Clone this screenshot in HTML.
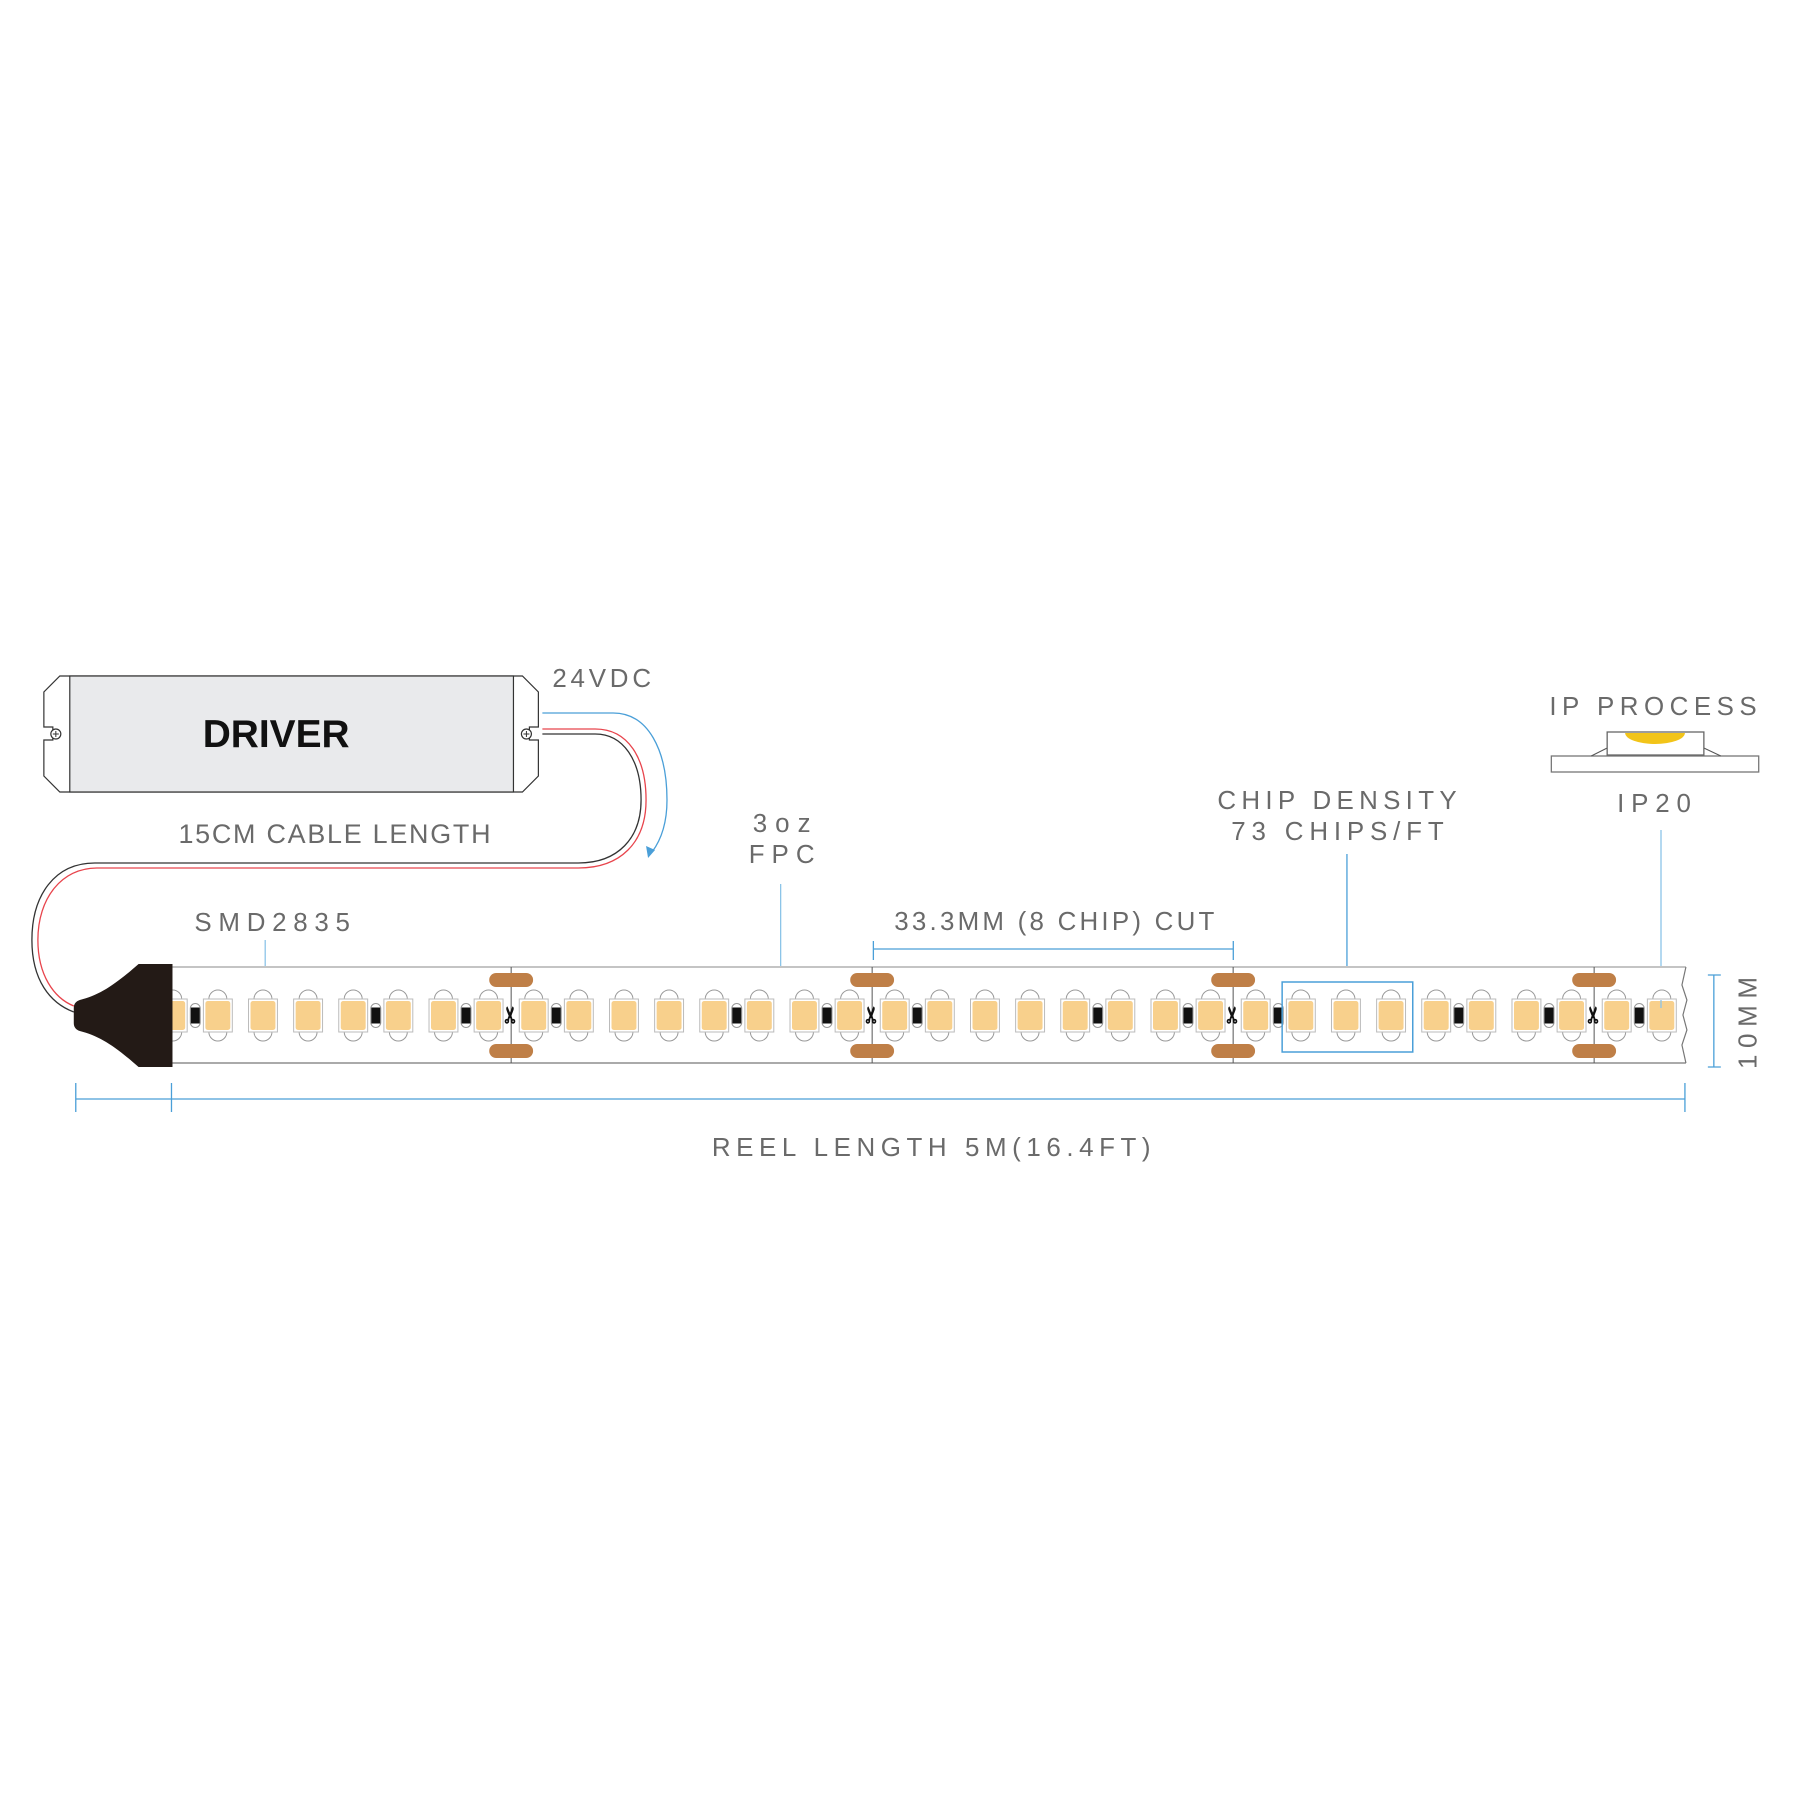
<!DOCTYPE html>
<html><head><meta charset="utf-8"><style>
html,body{margin:0;padding:0;background:#fff;}
svg{display:block;}
text{font-family:"Liberation Sans",sans-serif;fill:#6a6a6a;}
</style></head><body>
<svg width="1800" height="1800" viewBox="0 0 1800 1800" xmlns="http://www.w3.org/2000/svg">
<defs>
<g id="chip">
<path d="M-9 -16.5 A9 9 0 0 1 9 -16.5" fill="#fff" stroke="#999" stroke-width="1"/>
<path d="M-9 16.5 A9 9 0 0 0 9 16.5" fill="#fff" stroke="#999" stroke-width="1"/>
<rect x="-14.5" y="-16.5" width="29" height="33" fill="#fff" stroke="#bbb" stroke-width="1"/>
<rect x="-12.5" y="-14.5" width="25" height="29" rx="2.5" fill="#f8d08c"/>
</g>
<g id="res">
<rect x="-5" y="-12" width="10" height="24" rx="5" fill="#fff" stroke="#999" stroke-width="1"/>
<rect x="-4.5" y="-8" width="9" height="16" fill="#111"/>
</g>
<g id="cut">
<line x1="0" y1="967" x2="0" y2="1063" stroke="#555" stroke-width="1"/>
<rect x="-22" y="973" width="44" height="14" rx="7" fill="#bf7f47"/>
<rect x="-22" y="1044" width="44" height="14" rx="7" fill="#bf7f47"/>
<text x="0" y="0" transform="translate(7 1015) rotate(-90)" font-size="22" font-weight="bold" text-anchor="middle" style="fill:#111">✂</text>
</g>
</defs>
<g transform="scale(0.9970,1)">
<!-- Driver -->
<path d="M60 676 H524 L540 692 V727 H531 V740 H540 V776 L524 792 H60 L44 776 V740 H53 V727 H44 V692 Z" fill="#fff" stroke="#333" stroke-width="1.2"/>
<rect x="70" y="676" width="445" height="116" fill="#e9eaec" stroke="#333" stroke-width="1.2"/>
<circle cx="56" cy="734" r="5" fill="#fff" stroke="#333" stroke-width="1.2"/>
<path d="M53 734 H59 M56 731 V737" stroke="#333" stroke-width="1"/>
<circle cx="528" cy="734" r="5" fill="#fff" stroke="#333" stroke-width="1.2"/>
<path d="M525 734 H531 M528 731 V737" stroke="#333" stroke-width="1"/>
<text x="277" y="747" font-size="39" font-weight="bold" text-anchor="middle" style="fill:#111">DRIVER</text>

<!-- wires -->
<path d="M544 713 H615 C650 713 669 750 669 800 C669 823 663 840 654 852" fill="none" stroke="#4a9fd8" stroke-width="1.3"/>
<path d="M650 858 L648 846 L657 850 Z" fill="#4a9fd8"/>
<path d="M544 734 H597 C625 734 643 760 643 800 C643 838 620 863 580 863 H95 C55 863 32 895 32 940 C32 980 50 1003 74 1012" fill="none" stroke="#333" stroke-width="1.3"/>
<path d="M544 729 H597 C630 729 648 758 648 800 C648 843 622 868 580 868 H97 C62 868 38 898 38 940 C38 975 54 998 74 1006" fill="none" stroke="#e8444c" stroke-width="1.3"/>

<!-- labels -->
<text x="554" y="687" font-size="26" textLength="99" lengthAdjust="spacing">24VDC</text>
<text x="179" y="843" font-size="27" textLength="313" lengthAdjust="spacing">15CM CABLE LENGTH</text>
<text x="195" y="931" font-size="26" textLength="156" lengthAdjust="spacing">SMD2835</text>
<line x1="266" y1="940" x2="266" y2="1008" stroke="#8cc4e8" stroke-width="1.3"/>
<text x="755" y="832" font-size="26" textLength="58" lengthAdjust="spacing">3oz</text>
<text x="751" y="863" font-size="26" textLength="66" lengthAdjust="spacing">FPC</text>
<line x1="783" y1="884" x2="783" y2="986" stroke="#8cc4e8" stroke-width="1.3"/>
<text x="897" y="930" font-size="26" textLength="321" lengthAdjust="spacing">33.3MM (8 CHIP) CUT</text>
<path d="M876 949 H1237 M876 941 V960 M1237 941 V960" stroke="#4a9fd8" stroke-width="1.3" fill="none"/>
<text x="1221" y="809" font-size="26" textLength="240" lengthAdjust="spacing">CHIP DENSITY</text>
<text x="1235" y="840" font-size="26" textLength="213" lengthAdjust="spacing">73 CHIPS/FT</text>
<line x1="1351" y1="854" x2="1351" y2="982" stroke="#4a9fd8" stroke-width="1.3"/>
<text x="1554" y="715" font-size="26" textLength="208" lengthAdjust="spacing">IP PROCESS</text>
<text x="1622" y="812" font-size="26" textLength="74" lengthAdjust="spacing">IP20</text>
<line x1="1666" y1="830" x2="1666" y2="1006" stroke="#8cc4e8" stroke-width="1.3"/>

<!-- IP graphic -->
<rect x="1556" y="756" width="208" height="16" fill="#fff" stroke="#777" stroke-width="1.3"/>
<path d="M1612 748 L1596 756 M1709 748 L1726 756" stroke="#555" stroke-width="1"/>
<rect x="1612" y="732" width="97" height="23" fill="#fff" stroke="#666" stroke-width="1.3"/>
<path d="M1630 733 A30 11 0 0 0 1690 733 Z" fill="#f2c419"/>

<!-- strip -->
<rect x="173" y="967" width="1518" height="96" fill="#fff"/>
<line x1="173" y1="967" x2="1691" y2="967" stroke="#c4c4c4" stroke-width="2"/>
<line x1="173" y1="1063" x2="1691" y2="1063" stroke="#777" stroke-width="1.3"/>
<path d="M1691 967 L1687 985 L1692 1000 L1688 1015 L1692 1030 L1687 1045 L1691 1063" fill="none" stroke="#777" stroke-width="1.2"/>

<g transform="translate(0 1015.5)">
<use href="#chip" x="173.24"/><use href="#chip" x="218.5"/><use href="#chip" x="263.76"/><use href="#chip" x="309.02"/>
<use href="#chip" x="354.28"/><use href="#chip" x="399.54"/><use href="#chip" x="444.8"/><use href="#chip" x="490.06"/>
<use href="#chip" x="535.32"/><use href="#chip" x="580.58"/><use href="#chip" x="625.84"/><use href="#chip" x="671.1"/>
<use href="#chip" x="716.36"/><use href="#chip" x="761.62"/><use href="#chip" x="806.88"/><use href="#chip" x="852.14"/>
<use href="#chip" x="897.4"/><use href="#chip" x="942.66"/><use href="#chip" x="987.92"/><use href="#chip" x="1033.18"/>
<use href="#chip" x="1078.44"/><use href="#chip" x="1123.7"/><use href="#chip" x="1168.96"/><use href="#chip" x="1214.22"/>
<use href="#chip" x="1259.48"/><use href="#chip" x="1304.74"/><use href="#chip" x="1350"/><use href="#chip" x="1395.26"/>
<use href="#chip" x="1440.52"/><use href="#chip" x="1485.78"/><use href="#chip" x="1531.04"/><use href="#chip" x="1576.3"/>
<use href="#chip" x="1621.56"/><use href="#chip" x="1666.82"/>
<use href="#res" x="195.87"/><use href="#res" x="376.91"/><use href="#res" x="467.43"/><use href="#res" x="557.95"/>
<use href="#res" x="738.99"/><use href="#res" x="829.51"/><use href="#res" x="920.03"/><use href="#res" x="1101.07"/>
<use href="#res" x="1191.59"/><use href="#res" x="1282.11"/><use href="#res" x="1463.15"/><use href="#res" x="1553.67"/>
<use href="#res" x="1644.19"/>
</g>
<use href="#cut" x="512.69"/>
<use href="#cut" x="874.77"/>
<use href="#cut" x="1236.85"/>
<use href="#cut" x="1598.93"/>

<rect x="1286" y="982" width="131" height="70" fill="none" stroke="#4a9fd8" stroke-width="1.5"/>
<line x1="1666" y1="1000" x2="1666" y2="1008" stroke="#8cc4e8" stroke-width="1.3"/>

<!-- connector -->
<path d="M173 964 V1067 H139 C115 1046 100 1036 80 1031 Q74 1029 74 1023 V1008 Q74 1002 80 1000 C100 995 115 985 139 964 Z" fill="#231a16"/>

<!-- dimension lines -->
<path d="M76 1099 H1690 M76 1083 V1112 M172 1083 V1112 M1690 1083 V1112" stroke="#4a9fd8" stroke-width="1.3" fill="none"/>
<text x="714" y="1156" font-size="26" textLength="440" lengthAdjust="spacing">REEL LENGTH 5M(16.4FT)</text>
<path d="M1719 975 V1067 M1713 975 H1726 M1713 1067 H1726" stroke="#4a9fd8" stroke-width="1.3" fill="none"/>
<text x="0" y="0" font-size="26" textLength="92" lengthAdjust="spacing" transform="translate(1762 1069) rotate(-90)">10MM</text>
</g>
</svg>
</body></html>
